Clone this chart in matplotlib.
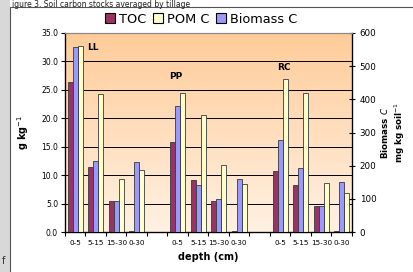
import numpy as np
import matplotlib
matplotlib.use("Agg")
import matplotlib.pyplot as plt
from matplotlib.patches import Rectangle, Patch
from matplotlib.colors import LinearSegmentedColormap

categories = ["0-5", "5-15", "15-30", "0-30", "", "0-5", "5-15", "15-30", "0-30", "", "0-5", "5-15", "15-30", "0-30"]
toc = [26.4, 11.4, 5.4, 0.2, np.nan, 15.8, 9.2, 5.45, 0.2, np.nan, 10.8, 8.3, 4.6, 0.2]
pom_c = [32.8, 24.2, 9.4, 10.9, np.nan, 24.4, 20.6, 11.7, 8.4, np.nan, 26.9, 24.4, 8.7, 6.8]
biomass_c = [559, 214, 93, 211, np.nan, 379, 141, 101, 161, np.nan, 277, 193, 78, 150]
group_labels = ["LL", "PP", "RC"]
group_label_pos = [(0.87, 32.5), (4.9, 27.3), (10.2, 29.0)]

c_toc = "#993366"
c_pom = "#FFFFCC"
c_bio = "#9999FF"
edge = "#3a3a3a"

W, H = 414, 272
fig = plt.figure(figsize=(W / 100, H / 100), dpi=100)
fig.patch.set_facecolor("white")

# left grey strip of the page and chart border
fig.add_artist(Rectangle((0, 0), 10 / W, 1, transform=fig.transFigure, facecolor="#d8d8d8",
                         edgecolor="none", zorder=-2))
fig.add_artist(Rectangle((10 / W, -0.1), 1.0, 1 - 7 / H + 0.1, transform=fig.transFigure,
                         facecolor="white", edgecolor="#555555", linewidth=0.8, zorder=-1))
fig.text(12 / W, 1.0, "igure 3. Soil carbon stocks averaged by tillage", fontsize=5.5,
         va="top", ha="left", color="#222222")
fig.text(2 / W, 8 / H, "f", fontsize=7, color="#333333")

left, right, top, bottom = 65, 352, 33, 232
ax = fig.add_axes([left / W, 1 - bottom / H, (right - left) / W, (bottom - top) / H])
ax2 = ax.twinx()

n = len(categories)
x = np.arange(n)
bw = 0.25

# gradient background
grad = np.linspace(0, 1, 256).reshape(-1, 1)
cmap = LinearSegmentedColormap.from_list("bg", ["#FFF1E3", "#FFCC99"])
ax.imshow(grad, extent=[-0.5, n - 0.5, 0, 35], origin="lower", aspect="auto", cmap=cmap, zorder=0)
ax.set_xlim(-0.5, n - 0.5)
ax.set_ylim(0, 35)
ax2.set_ylim(0, 600)

for yv in range(5, 35, 5):
    ax.axhline(yv, color="black", linewidth=0.7, zorder=1)

ax.bar(x - bw, toc, bw, color=c_toc, edgecolor=edge, linewidth=0.6, zorder=3)
ax.bar(x + bw, pom_c, bw, color=c_pom, edgecolor=edge, linewidth=0.6, zorder=3)
ax2.bar(x, biomass_c, bw, color=c_bio, edgecolor=edge, linewidth=0.6, zorder=3)

for lab, (gx, gy) in zip(group_labels, group_label_pos):
    ax.text(gx, gy, lab, fontsize=6.5, fontweight="bold", ha="center", va="center", zorder=5)

ax.set_yticks(np.arange(0, 35.1, 5))
ax.set_yticklabels([f"{v:.1f}" for v in np.arange(0, 35.1, 5)], fontsize=5.5)
ax2.set_yticks(np.arange(0, 601, 100))
ax2.set_yticklabels([str(v) for v in range(0, 601, 100)], fontsize=6.3)

ax.set_xticks(np.arange(-0.5, n + 0.5, 1))
ax.set_xticklabels([])
ax.set_xticks(x, minor=True)
ax.set_xticklabels(categories, minor=True, fontsize=5.2)
ax.tick_params(axis="x", which="major", direction="out", length=3, width=0.8)
ax.tick_params(axis="x", which="minor", length=0, pad=6)
ax.tick_params(axis="y", direction="out", length=3, width=0.8, pad=2)
ax2.tick_params(axis="y", direction="inout", length=5, width=0.8, pad=3)

for sp in ["left", "bottom"]:
    ax.spines[sp].set_linewidth(0.9)
ax.spines["top"].set_color("#888888")
ax2.spines["top"].set_color("#888888")
ax2.spines["right"].set_linewidth(0.9)

ax.set_ylabel("g kg$^{-1}$", fontsize=7, fontweight="bold")
ax.yaxis.set_label_coords(-(65 - 31) / 287, 0.5)
ax2.set_ylabel("Biomass $\\mathbf{\\mathit{C}}$\nmg kg soil$^{-1}$", fontsize=6.3, fontweight="bold",
               linespacing=1.2, rotation=90, va="center", ha="center")
ax2.yaxis.set_label_coords((393 - 65) / 287, 0.5)
ax.set_xlabel("depth (cm)", fontsize=7, fontweight="bold", labelpad=4)

handles = [Patch(facecolor=c_toc, edgecolor="black", linewidth=0.8),
           Patch(facecolor=c_pom, edgecolor="black", linewidth=0.8),
           Patch(facecolor=c_bio, edgecolor="black", linewidth=0.8)]
fig.legend(handles, ["TOC", "POM C", "Biomass C"], loc="center", bbox_to_anchor=(201 / W, 1 - 19 / H),
           ncol=3, frameon=False, handlelength=0.8, handleheight=0.8,
           handletextpad=0.3, columnspacing=0.5, prop={"size": 9.3})

fig.savefig("out.png", dpi=100)
